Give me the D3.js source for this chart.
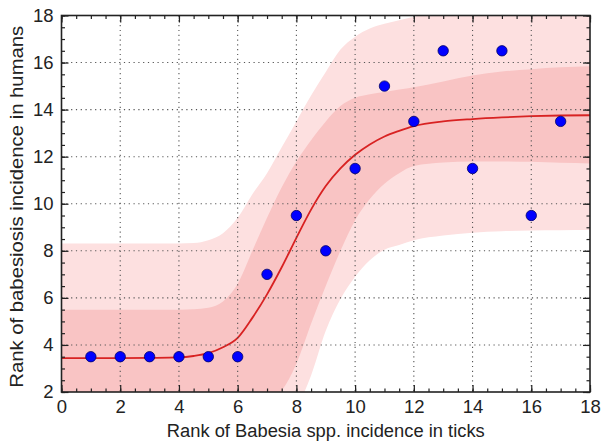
<!DOCTYPE html>
<html><head><meta charset="utf-8">
<script src="https://cdn.jsdelivr.net/npm/d3@7"></script>
<style>body{margin:0;background:#fff;} svg{display:block;}</style>
</head><body><svg id="c" width="604" height="445"></svg>
<script>
// Observed data
const rankTicks = [1,2,3,4,5,6,7,8,9,10,11,12,13,14,15,16,17];
const rankHumans = [3.5,3.5,3.5,3.5,3.5,3.5,7,9.5,8,11.5,15,13.5,16.5,11.5,16.5,9.5,13.5];
// Fitted curve and bands
const fitX      = [0,1,2,3,4,4.5,5,5.5,6,6.5,7,7.5,8,8.5,9,9.5,10,10.5,11,11.5,12,13,14,15,16,17,18];
const fitY      = [3.44,3.44,3.44,3.45,3.47,3.53,3.65,3.9,4.3,5.15,6.15,7.3,8.55,9.75,10.75,11.5,12.08,12.52,12.86,13.1,13.3,13.5,13.6,13.67,13.72,13.75,13.76];
const innerUp   = [5.5,5.5,5.5,5.5,5.5,5.52,5.58,5.85,6.6,8.0,9.4,10.7,11.8,12.7,13.5,14.15,14.5,14.65,14.75,14.85,14.95,15.2,15.45,15.62,15.72,15.8,15.84];
const innerLow  = [1.4,1.4,1.4,1.4,1.4,1.4,1.4,1.4,1.4,1.4,1.5,2.05,3.2,4.9,6.5,8.0,9.3,10.2,10.85,11.3,11.6,11.75,11.8,11.8,11.78,11.74,11.71];
const outerUp   = [8.31,8.31,8.31,8.31,8.31,8.33,8.45,8.75,9.4,10.4,11.3,12.4,13.5,14.6,15.6,16.55,17.1,17.45,17.65,17.8,17.95,18.2,18.4,18.5,18.6,18.6,18.6];
const outerLow  = [0,0,0,0,0,0,0,0,0,0,0,0.5,1.3,2.7,4.6,5.95,6.9,7.6,8.05,8.25,8.45,8.65,8.77,8.83,8.86,8.87,8.88];
const xTickVals = [0,2,4,6,8,10,12,14,16,18];
const yTickVals = [2,4,6,8,10,12,14,16,18];
const xLabel = "Rank of Babesia spp. incidence in ticks";
const yLabel = "Rank of babesiosis incidence in humans";

const svg = d3.select("#c");
const L = 61.5, R = 590, T = 15.5, B = 392;
const x = d3.scaleLinear().domain([0,18]).range([L,R]);
const y = d3.scaleLinear().domain([2,18]).range([B,T]);

svg.append("defs").append("clipPath").attr("id","clip")
  .append("rect").attr("x",L).attr("y",T).attr("width",R-L).attr("height",B-T);
const plot = svg.append("g").attr("clip-path","url(#clip)");

const area = (lo, hi) => d3.area().curve(d3.curveMonotoneX)
  .x((d,i)=>x(fitX[i])).y0((d,i)=>y(lo[i])).y1((d,i)=>y(hi[i]));
plot.append("path").datum(fitX).attr("d", area(outerLow, outerUp)).attr("fill","#fde0e0");
plot.append("path").datum(fitX).attr("d", area(innerLow, innerUp)).attr("fill","#f9c4c4");

// grid
const grid = svg.append("g").attr("stroke","#555").attr("stroke-width",1.1).attr("stroke-dasharray","1.2,3.6");
grid.selectAll(".gx").data(xTickVals.slice(1,-1)).join("line")
  .attr("x1",d=>x(d)).attr("x2",d=>x(d)).attr("y1",T).attr("y2",B);
grid.selectAll(".gy").data(yTickVals.slice(1,-1)).join("line")
  .attr("y1",d=>y(d)).attr("y2",d=>y(d)).attr("x1",L).attr("x2",R);

// curve
plot.append("path").datum(fitX)
  .attr("d", d3.line().curve(d3.curveMonotoneX).x((d,i)=>x(fitX[i])).y((d,i)=>y(fitY[i])))
  .attr("fill","none").attr("stroke","#d82222").attr("stroke-width",1.8);

// points
svg.append("g").selectAll("circle").data(rankTicks).join("circle")
  .attr("cx",(d)=>x(d)).attr("cy",(d,i)=>y(rankHumans[i])).attr("r",5.2)
  .attr("fill","#0000ff").attr("stroke","#000066").attr("stroke-width",0.8);

// axes with inward ticks on all sides
const minorX = d3.range(0,18.01,0.5), minorY = d3.range(2,18.01,0.5);
function axisBoth(axisGen, tr){
  const g = svg.append("g").attr("transform",tr);
  g.call(axisGen);
  g.select(".domain").remove();
  return g;
}
const fontFam = "Liberation Sans, Arial, sans-serif";
// bottom
const bx = axisBoth(d3.axisBottom(x).tickValues(xTickVals).tickSize(-7).tickPadding(8).tickFormat(d3.format("d")), `translate(0,${B})`);
bx.selectAll("text").attr("font-size",18.5).attr("font-family",fontFam).attr("fill","#222");
axisBoth(d3.axisBottom(x).tickValues(minorX).tickSize(-3.5).tickFormat(""), `translate(0,${B})`);
// top
axisBoth(d3.axisTop(x).tickValues(xTickVals).tickSize(-7).tickFormat(""), `translate(0,${T})`);
axisBoth(d3.axisTop(x).tickValues(minorX).tickSize(-3.5).tickFormat(""), `translate(0,${T})`);
// left
const ly = axisBoth(d3.axisLeft(y).tickValues(yTickVals).tickSize(-7).tickPadding(8).tickFormat(d3.format("d")), `translate(${L},0)`);
ly.selectAll("text").attr("font-size",18.5).attr("font-family",fontFam).attr("fill","#222");
axisBoth(d3.axisLeft(y).tickValues(minorY).tickSize(-3.5).tickFormat(""), `translate(${L},0)`);
// right
axisBoth(d3.axisRight(y).tickValues(yTickVals).tickSize(-7).tickFormat(""), `translate(${R},0)`);
axisBoth(d3.axisRight(y).tickValues(minorY).tickSize(-3.5).tickFormat(""), `translate(${R},0)`);
svg.selectAll(".tick line").attr("stroke","#222").attr("stroke-width",1.2);

svg.append("rect").attr("x",L).attr("y",T).attr("width",R-L).attr("height",B-T)
  .attr("fill","none").attr("stroke","#222").attr("stroke-width",1.6);

svg.append("text").attr("x",(L+R)/2).attr("y",437).attr("text-anchor","middle")
  .attr("font-size",18).attr("font-family",fontFam).attr("fill","#222")
  .attr("textLength",318).attr("lengthAdjust","spacingAndGlyphs").text(xLabel);
svg.append("text").attr("transform",`translate(23,${(T+B)/2+3}) rotate(-90)`).attr("text-anchor","middle")
  .attr("font-size",19).attr("font-family",fontFam).attr("fill","#222")
  .attr("textLength",362).attr("lengthAdjust","spacingAndGlyphs").text(yLabel);
</script></body></html>
